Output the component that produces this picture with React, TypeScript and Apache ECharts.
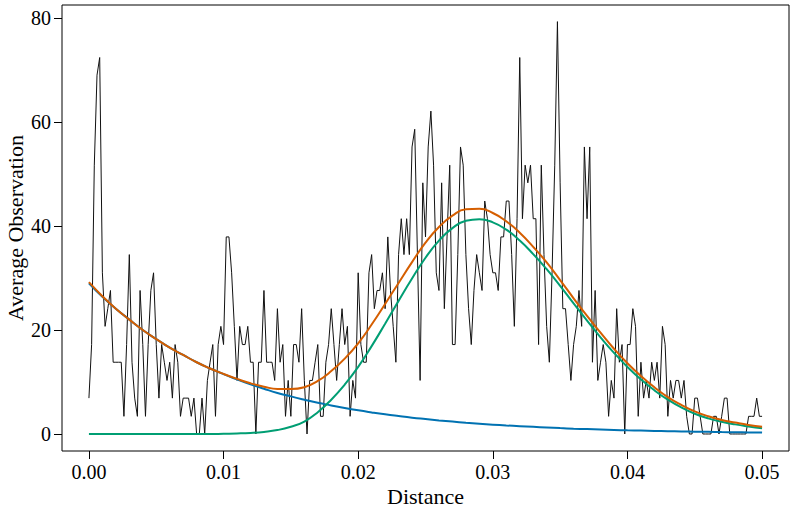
import React, { useEffect, useRef } from "react";
import * as echarts from "echarts";

// Black noisy line: observations sampled every 0.0002 of distance (0 .. 0.05)
const OBS_STEP = 0.0002;
const observations: number[] = [
  6.9, 17.2, 51.7, 69.0, 72.4, 31.0, 20.7, 24.1, 27.6, 13.8,
  13.8, 13.8, 13.8, 3.4, 17.2, 34.5, 13.8, 6.9, 3.4, 27.6,
  17.2, 3.4, 17.2, 27.6, 31.0, 17.2, 6.9,
  17.2, 13.8, 10.3, 13.8, 6.9, 17.2, 13.8, 3.4, 6.9, 6.9,
  6.9, 3.4, 6.9, 0, 0, 6.9, 0, 10.3, 13.8, 17.2,
  3.4, 17.2, 20.7, 17.2,
  37.9, 37.9, 31.0, 20.7, 10.3, 20.7, 17.2, 17.2, 20.7, 13.8,
  13.8, 0, 13.8, 13.8, 27.6, 13.8, 13.8, 13.8, 10.3, 24.1,
  13.8, 17.2, 3.4, 10.3, 3.4, 17.2, 17.2,
  13.8, 24.1, 10.3, 0, 10.3, 10.3, 13.8, 17.2, 3.4, 3.4,
  13.8, 17.2, 24.1, 17.2, 10.3, 17.2, 24.1, 17.2, 20.7, 3.4,
  10.3, 6.9, 31.0, 17.2, 13.8, 13.8,
  31.0, 34.5, 24.1, 27.6, 27.6, 31.0, 24.1, 37.9, 27.6, 20.7,
  13.8, 34.5, 41.4, 34.5, 41.4, 34.5, 55.2, 58.6, 34.5, 10.3,
  48.3, 37.9, 55.2, 62.1, 51.7, 31.0,
  27.6, 48.3, 24.1, 37.9, 51.7, 17.2, 17.2, 34.5, 55.2, 51.7,
  34.5, 24.1, 17.2, 27.6, 34.5, 31.0, 27.6, 44.8, 41.4, 34.5,
  31.0, 31.0, 27.6, 37.9, 37.9,
  44.8, 44.8, 34.5, 20.7, 41.4, 72.4, 41.4, 51.7, 48.3, 51.7,
  41.4, 41.4, 17.2, 51.7, 34.5, 20.7, 13.8, 31.0, 51.7, 79.3,
  48.3, 24.1, 24.1, 17.2, 10.3, 17.2, 20.7,
  27.6, 20.7, 55.2, 41.4, 55.2, 13.8, 27.6, 10.3, 13.8, 17.2,
  13.8, 3.4, 10.3, 6.9, 24.1, 13.8, 17.2, 0, 17.2, 17.2,
  24.1, 20.7, 3.4, 13.8, 6.9, 10.3,
  6.9, 13.8, 10.3, 13.8, 6.9, 20.7, 17.2, 3.4, 10.3, 6.9,
  10.3, 10.3, 6.9, 10.3, 3.4, 0, 0, 6.9, 6.9, 3.4,
  0, 0, 0, 0, 3.4, 3.4,
  0, 3.4, 6.9, 6.9, 0, 0, 0, 0, 0, 0,
  0, 3.4, 3.4, 3.4, 6.9, 3.4, 3.4,
];

// Fitted curves, read every 0.001 of distance (0 .. 0.05)
const CURVE_STEP = 0.001;
const decayCurve: number[] = [
  29.0, 26.4, 24.1, 22.0, 20.0, 18.25, 16.6, 15.2, 13.8, 12.6,
  11.5, 10.5, 9.55, 8.7, 7.9, 7.23, 6.6, 6.0, 5.5, 5.0,
  4.55, 4.15, 3.78, 3.45, 3.14, 2.87, 2.61, 2.38, 2.17, 1.98,
  1.8, 1.64, 1.5, 1.37, 1.25, 1.13, 1.03, 0.94, 0.86, 0.78,
  0.71, 0.65, 0.59, 0.54, 0.49, 0.45, 0.41, 0.37, 0.34, 0.31,
  0.28,
];
const peakCurve: number[] = [
  0, 0, 0, 0, 0, 0, 0, 0, 0, 0,
  0.05, 0.1, 0.2, 0.4, 0.75, 1.4, 2.4, 4.2, 6.6, 9.5,
  12.9, 16.9, 21.2, 25.6, 29.9, 33.9, 37.2, 39.6, 41.0, 41.3,
  40.7, 39.3, 37.2, 34.6, 31.7, 28.5, 25.1, 21.8, 18.6, 15.6,
  12.9, 10.5, 8.4, 6.6, 5.1, 3.9, 3.0, 2.35, 1.85, 1.45,
  1.1,
];
const totalCurve: number[] = [
  29.2, 26.5, 24.1, 22.0, 20.0, 18.25, 16.6, 15.2, 13.8, 12.6,
  11.55, 10.6, 9.75, 9.1, 8.65, 8.65, 9.0, 10.2, 12.1, 14.5,
  17.45, 21.05, 25.0, 29.05, 33.05, 36.8, 39.8, 42.0, 43.2, 43.3,
  42.5, 40.9, 38.7, 36.0, 33.0, 29.6, 26.1, 22.7, 19.5, 16.4,
  13.6, 11.15, 9.0, 7.1, 5.6, 4.35, 3.4, 2.7, 2.2, 1.75,
  1.4,
];

const xTicks = [0, 0.01, 0.02, 0.03, 0.04, 0.05];
const yTicks = [0, 20, 40, 60, 80];

const FONT = "'Liberation Serif', 'Times New Roman', serif";

export default function App() {
  const ref = useRef<HTMLDivElement>(null);
  useEffect(() => {
    if (!ref.current) return;
    const chart = echarts.init(ref.current, undefined, { renderer: "svg" });
    const obsData = observations.map((v, i) => [+(i * OBS_STEP).toFixed(4), v]);
    const curve = (arr: number[]) => arr.map((v, i) => [+(i * CURVE_STEP).toFixed(3), v]);
    chart.setOption({
      animation: false,
      backgroundColor: "#fff",
      grid: {
        left: 62,
        right: 1,
        top: 5,
        bottom: 57,
        show: true,
        borderColor: "#000",
        borderWidth: 1,
        backgroundColor: "transparent",
        containLabel: false,
        outerBoundsMode: "none",
      },
      xAxis: {
        type: "value",
        min: -0.002,
        max: 0.052,
        axisLine: { show: false, onZero: false },
        splitLine: { show: false },
        axisTick: {
          show: true,
          customValues: xTicks,
          length: 8,
          lineStyle: { color: "#000", width: 1 },
        },
        axisLabel: {
          customValues: xTicks,
          formatter: (v: number) => v.toFixed(2),
          fontFamily: FONT,
          fontSize: 20,
          color: "#000",
          margin: 11,
        },
        name: "Distance",
        nameLocation: "middle",
        nameGap: 34,
        nameMoveOverlap: false,
        nameTextStyle: { fontFamily: FONT, fontSize: 22, lineHeight: 22, color: "#000" },
      },
      yAxis: {
        type: "value",
        min: -3.27,
        max: 82.5,
        axisLine: { show: false, onZero: false },
        splitLine: { show: false },
        axisTick: {
          show: true,
          customValues: yTicks,
          length: 8,
          lineStyle: { color: "#000", width: 1 },
        },
        axisLabel: {
          customValues: yTicks,
          fontFamily: FONT,
          fontSize: 20,
          color: "#000",
          margin: 11,
        },
        name: "Average Observation",
        nameLocation: "middle",
        nameRotate: 90,
        nameGap: 36,
        nameMoveOverlap: false,
        nameTextStyle: { fontFamily: FONT, fontSize: 22, lineHeight: 22, color: "#000" },
      },
      series: [
        {
          type: "line",
          data: obsData,
          showSymbol: false,
          lineStyle: { color: "#111", width: 1 },
          z: 1,
        },
        {
          type: "line",
          data: curve(decayCurve),
          smooth: true,
          showSymbol: false,
          lineStyle: { color: "#0072B2", width: 2 },
          z: 2,
        },
        {
          type: "line",
          data: curve(peakCurve),
          smooth: true,
          showSymbol: false,
          lineStyle: { color: "#009E73", width: 2 },
          z: 3,
        },
        {
          type: "line",
          data: curve(totalCurve),
          smooth: true,
          showSymbol: false,
          lineStyle: { color: "#D55E00", width: 2 },
          z: 4,
        },
      ],
    });
    return () => chart.dispose();
  }, []);
  return (
    <div
      ref={ref}
      style={{ position: "absolute", left: 0, top: 0, width: 790, height: 508 }}
    />
  );
}
